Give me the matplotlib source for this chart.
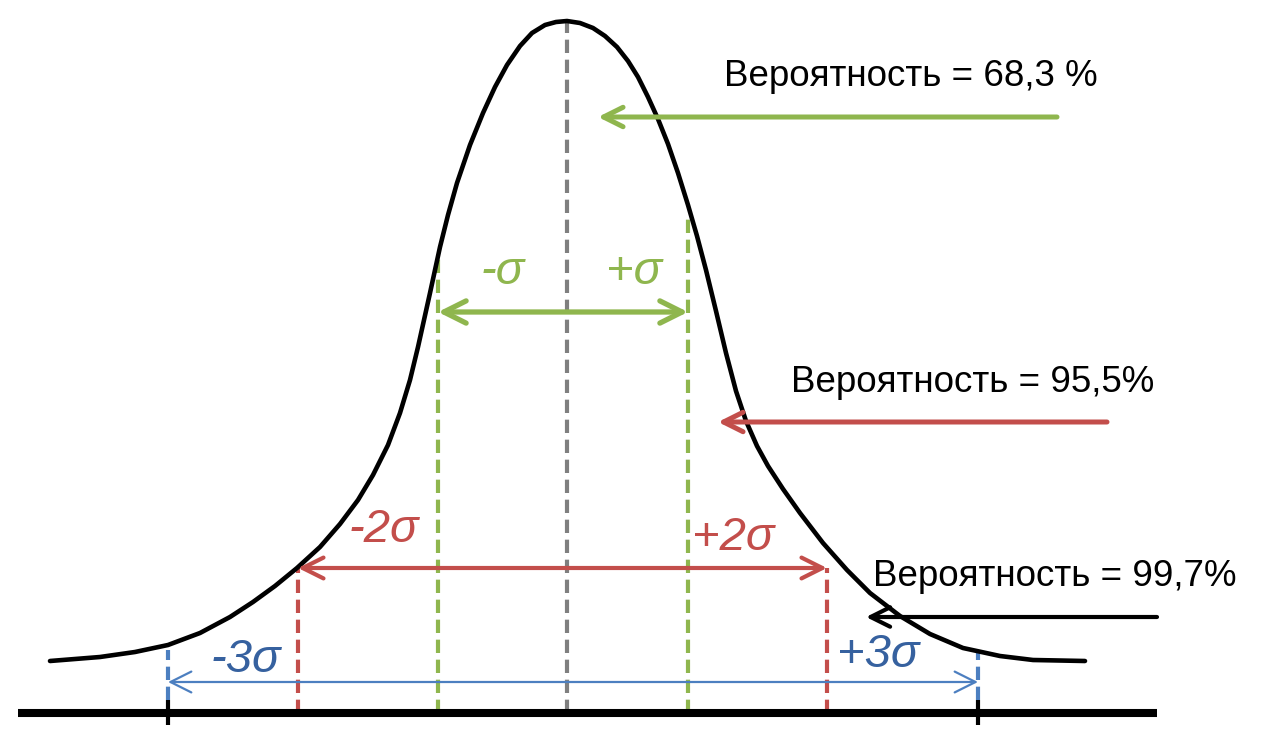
import matplotlib
matplotlib.use("Agg")
import matplotlib.pyplot as plt

# ---------------- data (x = horizontal position, h = height above axis) -------------
curve_x = [50, 100, 135, 168, 200, 230, 253, 275, 297, 320, 340, 358, 373, 388, 400, 410, 418, 430,
           440, 448, 457, 470, 483, 495, 507, 520, 532, 545, 556, 567,
           580, 593, 605, 617, 628, 638, 648, 658, 668, 678, 688, 697, 706, 716, 726, 736, 746, 757,
           768, 783, 800, 823, 847, 870, 900, 930, 963, 1000, 1033, 1085]
curve_h = [52, 56, 61, 68, 80, 96, 111, 127, 145, 166, 189, 213, 238, 268, 300, 333, 366, 420,
           466, 498, 530, 568, 600, 626, 648, 667, 680, 688, 691, 692,
           690, 685, 677, 666, 652, 636, 616, 594, 569, 540, 508, 477, 443, 402, 360, 322, 292, 267,
           247, 224, 200, 170, 143, 120, 97, 79, 65, 57, 53, 52]

mean_x = 567
mean_top = 692
sigma1_x = [438, 688]      # -σ, +σ
sigma1_top = [460, 500]
sigma2_x = [298, 827]      # -2σ, +2σ
sigma2_top = [145, 145]
sigma3_x = [168, 978]      # -3σ, +3σ
sigma3_top = 63

sigma1_labels = ["-σ", "+σ"]
sigma2_labels = ["-2σ", "+2σ"]
sigma3_labels = ["-3σ", "+3σ"]

prob_labels = ["Вероятность = 68,3 %", "Вероятность = 95,5%", "Вероятность = 99,7%"]
prob_arrow_h = [596, 291, 96]
prob_arrow_from = [1057, 1107, 1157]
prob_arrow_to = [598, 718, 866]

axis_x = [18, 1157]

GREEN = "#8FB64E"
RED = "#C34E4B"
BLUE_LINE = "#4C7FC0"
BLUE_TEXT = "#36619F"
GRAY = "#7F7F7F"

plt.rcParams['font.family'] = ['Liberation Sans', 'DejaVu Sans']

fig = plt.figure(figsize=(12.62, 7.41), dpi=100)
ax = fig.add_axes([0, 0, 1, 1])
ax.set_xlim(0, 1262)
ax.set_ylim(-28, 713)
ax.axis('off')

# axis line and ticks
ax.plot(axis_x, [0, 0], color='black', lw=5.8, solid_capstyle='butt', zorder=3)
for x in sigma3_x:
    ax.plot([x, x], [-12, 13], color='black', lw=3, solid_capstyle='butt', zorder=3)

# curve
ax.plot(curve_x, curve_h, color='black', lw=3.3, solid_joinstyle='round',
        solid_capstyle='round', zorder=4)

dash = (0, (3.2, 1.6))
# mean line
ax.plot([mean_x, mean_x], [0, mean_top], color=GRAY, lw=3, linestyle=dash, zorder=2)
# sigma lines
for x, top in zip(sigma1_x, sigma1_top):
    ax.plot([x, x], [0, top], color=GREEN, lw=3, linestyle=dash, zorder=2)
for x, top in zip(sigma2_x, sigma2_top):
    ax.plot([x, x], [0, top], color=RED, lw=3, linestyle=dash, zorder=2)
for x in sigma3_x:
    ax.plot([x, x], [13, sigma3_top], color=BLUE_LINE, lw=3, linestyle=dash, zorder=2)

def darrow(x0, x1, y, color, lw, hl, hw):
    ax.annotate('', xy=(x1, y), xytext=(x0, y),
                arrowprops=dict(arrowstyle=f'<->,head_length={hl},head_width={hw}',
                                color=color, lw=lw, shrinkA=0, shrinkB=0), zorder=5)

darrow(sigma1_x[0], sigma1_x[1], 401, GREEN, 3.8, 1.6, 0.8)
darrow(sigma2_x[0], sigma2_x[1], 145, RED, 3.0, 1.5, 0.75)
darrow(sigma3_x[0], sigma3_x[1], 31, BLUE_LINE, 1.6, 1.5, 0.75)

# sigma labels
lab_kw = dict(fontsize=34, style='italic', ha='center', va='center', zorder=6)
ax.text(503, 441, sigma1_labels[0], color=GREEN, **lab_kw)
ax.text(634, 441, sigma1_labels[1], color=GREEN, **lab_kw)
ax.text(384, 183, sigma2_labels[0], color=RED, **lab_kw)
ax.text(733, 175, sigma2_labels[1], color=RED, **lab_kw)
ax.text(246, 53, sigma3_labels[0], color=BLUE_TEXT, **lab_kw)
ax.text(878, 58, sigma3_labels[1], color=BLUE_TEXT, **lab_kw)

# probability pointers
pcolors = [GREEN, RED, 'black']
plw = [3.6, 3.6, 3.0]
for h, x0, x1, c, lw in zip(prob_arrow_h, prob_arrow_from, prob_arrow_to, pcolors, plw):
    ax.annotate('', xy=(x1, h), xytext=(x0, h),
                arrowprops=dict(arrowstyle='->,head_length=1.4,head_width=0.7',
                                color=c, lw=lw, shrinkA=0, shrinkB=0), zorder=5)

text_pos = [(724, 636), (791, 330), (873, 136)]
for (x, h), s in zip(text_pos, prob_labels):
    ax.text(x, h, s, fontsize=26.5, ha='left', va='center', color='black', zorder=6)

fig.savefig('out.png', dpi=100)
